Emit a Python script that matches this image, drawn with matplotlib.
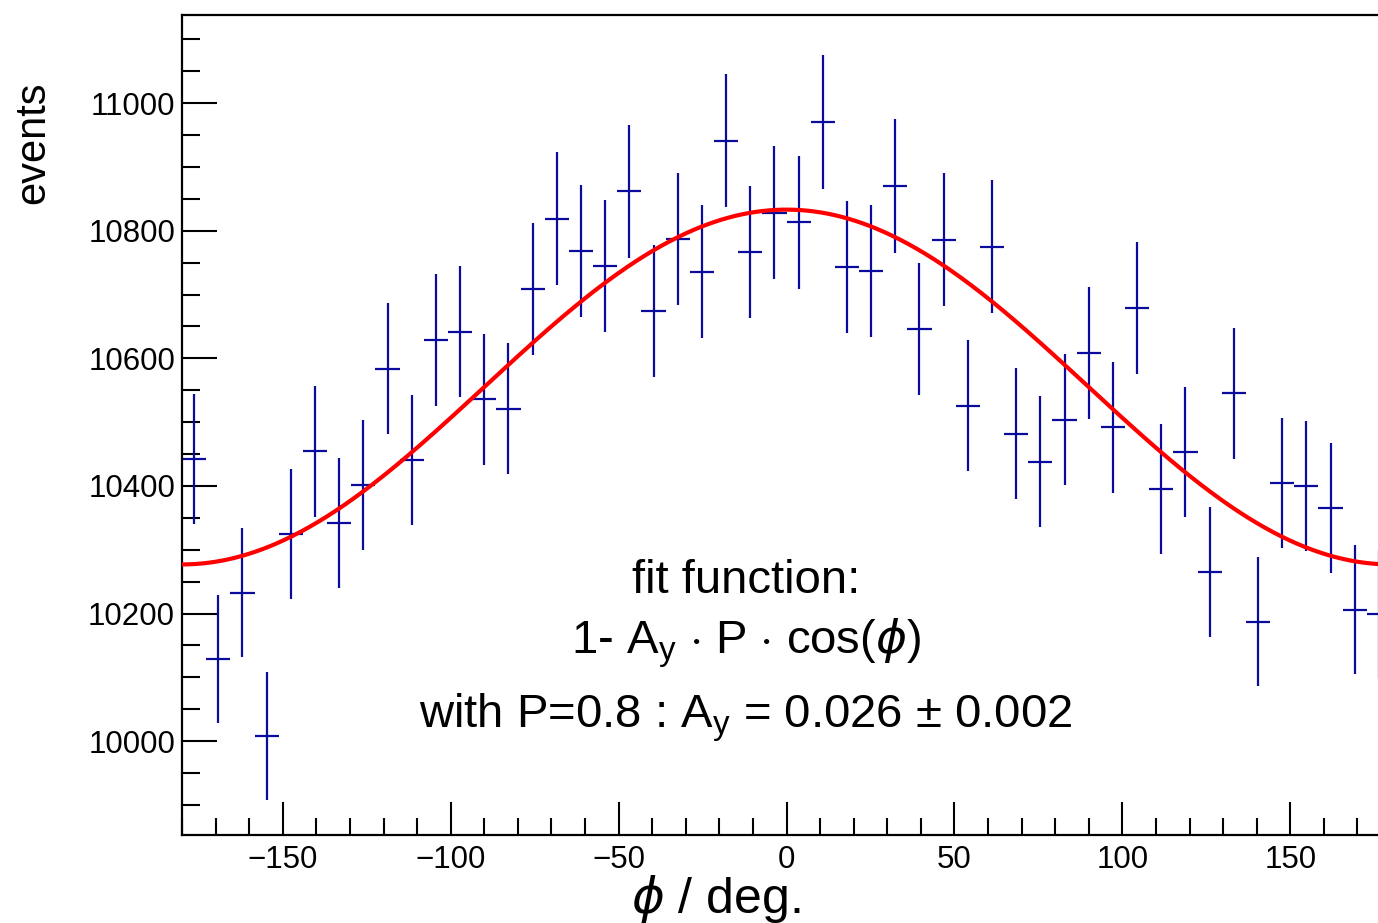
import numpy as np
import matplotlib
matplotlib.use("Agg")
import matplotlib.pyplot as plt
from matplotlib.ticker import MultipleLocator

# ---- data ----
bin_centers = [-176.4, -169.2, -162.0, -154.8, -147.6, -140.4, -133.2, -126.0, -118.8, -111.6,
               -104.4, -97.2, -90.0, -82.8, -75.6, -68.4, -61.2, -54.0, -46.8, -39.6,
               -32.4, -25.2, -18.0, -10.8, -3.6, 3.6, 10.8, 18.0, 25.2, 32.4,
               39.6, 46.8, 54.0, 61.2, 68.4, 75.6, 82.8, 90.0, 97.2, 104.4,
               111.6, 118.8, 126.0, 133.2, 140.4, 147.6, 154.8, 162.0, 169.2, 176.4]
counts = [10442, 10129, 10233, 10008, 10325, 10454, 10342, 10402, 10584, 10441,
          10629, 10642, 10536, 10521, 10708, 10819, 10768, 10745, 10862, 10674,
          10787, 10736, 10941, 10767, 10828, 10813, 10970, 10743, 10737, 10870,
          10646, 10786, 10526, 10775, 10482, 10438, 10504, 10608, 10492, 10679,
          10395, 10453, 10265, 10545, 10187, 10404, 10400, 10365, 10206, 10199]
bin_half_width = 3.6
fit_n0 = 10555.0
fit_amp = 278.0

xlabel_text = r"$\phi$ / deg."
ylabel_text = "events"
fit_lines = ["fit function:",
             r"1- A$_{\mathrm{y}}$ $\cdot$ P $\cdot$ cos($\phi$)",
             r"with P=0.8 : A$_{\mathrm{y}}$ = 0.026 ± 0.002"]

plt.rcParams['font.family'] = ['Liberation Sans', 'DejaVu Sans']
plt.rcParams['mathtext.fontset'] = 'custom'
plt.rcParams['mathtext.rm'] = 'Liberation Sans'
plt.rcParams['mathtext.it'] = 'DejaVu Sans:italic'
plt.rcParams['mathtext.bf'] = 'Liberation Sans:bold'

W, H = 1378, 923
fig = plt.figure(figsize=(W / 100, H / 100), dpi=100)
left, right, top, bottom = 182, 1391, 15, 835
ax = fig.add_axes([left / W, (H - bottom) / H, (right - left) / W, (bottom - top) / H])

x = np.array(bin_centers)
y = np.array(counts, dtype=float)
ax.errorbar(x, y, yerr=np.sqrt(y), xerr=bin_half_width, fmt='none',
            ecolor='#0a0a9c', elinewidth=1.6, capsize=0, zorder=2)

phi = np.linspace(-180, 180, 721)
ax.plot(phi, fit_n0 + fit_amp * np.cos(np.radians(phi)), color='#ff0000', lw=3.0, zorder=3)

ax.set_xlim(-180, 180)
ax.set_ylim(9853, 11138)
ax.xaxis.set_major_locator(MultipleLocator(50))
ax.xaxis.set_minor_locator(MultipleLocator(10))
ax.yaxis.set_major_locator(MultipleLocator(200))
ax.yaxis.set_minor_locator(MultipleLocator(50))
ax.tick_params(which='both', direction='in', top=False, right=False, width=1.5, color='black')
ax.tick_params(axis='x', which='major', length=24, labelsize=22.5, pad=7)
ax.tick_params(axis='x', which='minor', length=12)
ax.tick_params(axis='y', which='major', length=25, labelsize=22.5, pad=5)
ax.tick_params(axis='y', which='minor', length=13)
for s in ax.spines.values():
    s.set_linewidth(1.6)

fig.text(716 / W, 1 - 913 / H, xlabel_text, fontsize=36, ha='center', va='baseline')
fig.text(33 / W, 1 - 82 / H, ylabel_text, fontsize=30, rotation=90, ha='center', va='top')

baselines = [593, 653, 727]
for t, yy in zip(fit_lines, baselines):
    fig.text(746 / W, 1 - yy / H, t, fontsize=34, ha='center', va='baseline')

fig.savefig("out.png", dpi=100)
